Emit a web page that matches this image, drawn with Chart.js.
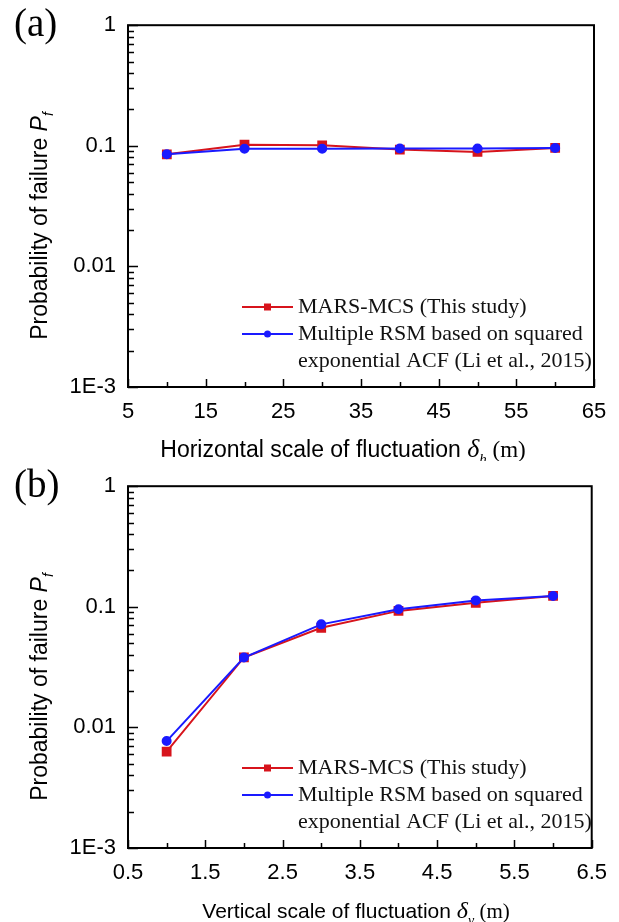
<!DOCTYPE html>
<html>
<head>
<meta charset="utf-8">
<script src="https://cdn.jsdelivr.net/npm/chart.js@4.4.1/dist/chart.umd.min.js"></script>
<style>
  html, body { margin: 0; padding: 0; background: #fff; }
  canvas { display: block; }
</style>
</head>
<body>
<canvas id="chartA" width="619" height="461"></canvas>
<canvas id="chartB" width="619" height="461"></canvas>
<script>
// panel (a): horizontal scale of fluctuation
const xA = [10, 20, 30, 40, 50, 60];
const marsA = [0.085, 0.102, 0.101, 0.093, 0.089, 0.096];
const rsmA = [0.085, 0.0945, 0.0945, 0.095, 0.095, 0.096];

// panel (b): vertical scale of fluctuation
const xB = [1, 2, 3, 4, 5, 6];
const marsB = [0.0063, 0.038, 0.067, 0.0925, 0.108, 0.123];
const rsmB = [0.0077, 0.038, 0.0715, 0.0955, 0.113, 0.123];

const yDecades = [0.001, 0.01, 0.1, 1];
const yDecadeLabels = ['1E-3', '0.01', '0.1', '1'];
const seriesNames = ['MARS-MCS (This study)', ['Multiple RSM based on squared', 'exponential ACF (Li et al., 2015)']];

const RED = '#d7141c';
const BLUE = '#1a1aff';
const SANS = '"Liberation Sans", Arial, sans-serif';
const SERIF = '"Liberation Serif", "Times New Roman", serif';

// draws the box, inward ticks, axis titles, panel letter and legend
const decor = {
  id: 'decor',
  afterDraw(chart, args, o) {
    const { ctx, chartArea: a, scales: { x, y } } = chart;
    ctx.save();
    ctx.strokeStyle = '#000';
    ctx.lineWidth = 2;
    ctx.strokeRect(a.left, a.top, a.right - a.left, a.bottom - a.top);

    // y ticks (log, inward)
    ctx.lineWidth = 1.5;
    ctx.beginPath();
    yDecades.forEach(d => {
      for (let k = 1; k <= 9; k++) {
        const v = d * k;
        if (v > 1.0001) break;
        const py = Math.round(y.getPixelForValue(v)) + 0.5;
        const len = k === 1 ? 10 : 6;
        ctx.moveTo(a.left, py); ctx.lineTo(a.left + len, py);
      }
    });
    // x ticks (inward): major at scale ticks, minor in between
    const tv = x.ticks.map(t => t.value);
    tv.forEach((t, i) => {
      const px = Math.round(x.getPixelForValue(t)) + 0.5;
      ctx.moveTo(px, a.bottom); ctx.lineTo(px, a.bottom - 8);
      if (i < tv.length - 1) {
        const mx = Math.round(x.getPixelForValue((t + tv[i + 1]) / 2)) + 0.5;
        ctx.moveTo(mx, a.bottom); ctx.lineTo(mx, a.bottom - 5);
      }
    });
    ctx.stroke();

    ctx.fillStyle = '#000';
    ctx.textBaseline = 'alphabetic';
    ctx.textAlign = 'left';

    // panel letter
    ctx.font = '39px ' + SERIF;
    ctx.fillText(o.letter, 14, 36);

    // x title
    const fs = o.xTitleSize;
    const parts = [
      { t: o.xTitle, f: fs + 'px ' + SANS, dy: 0 },
      { t: 'δ', f: 'italic ' + (fs + 3) + 'px ' + SERIF, dy: 0 },
      { t: o.xSub, f: 'italic ' + Math.round(fs * 0.65) + 'px ' + SERIF, dy: 7 },
      { t: ' (m)', f: fs + 'px ' + SERIF, dy: 0 }
    ];
    let w = 0;
    parts.forEach(p => { ctx.font = p.f; w += ctx.measureText(p.t).width; });
    let cx = o.xTitleCenter - w / 2;
    parts.forEach(p => {
      ctx.font = p.f;
      ctx.fillText(p.t, cx, 457 + p.dy);
      cx += ctx.measureText(p.t).width;
    });

    // y title (rotated)
    const yparts = [
      { t: 'Probability of failure ', f: '23px ' + SANS, dy: 0 },
      { t: 'P', f: 'italic 23px ' + SANS, dy: 0 },
      { t: 'f', f: 'italic 14px ' + SANS, dy: 6 }
    ];
    w = 0;
    yparts.forEach(p => { ctx.font = p.f; w += ctx.measureText(p.t).width; });
    ctx.save();
    ctx.translate(47, 226);
    ctx.rotate(-Math.PI / 2);
    cx = -w / 2;
    yparts.forEach(p => {
      ctx.font = p.f;
      ctx.fillText(p.t, cx, p.dy);
      cx += ctx.measureText(p.t).width;
    });
    ctx.restore();

    // legend
    const rows = [307, 334, 361];
    const x0 = 242, x1 = 293, tx = 298;
    ctx.font = '22px ' + SERIF;
    ctx.textBaseline = 'middle';
    chart.data.datasets.forEach((ds, i) => {
      const ly = rows[ds.legendRow];
      ctx.strokeStyle = ds.borderColor;
      ctx.lineWidth = 2;
      ctx.beginPath(); ctx.moveTo(x0, ly); ctx.lineTo(x1, ly); ctx.stroke();
      ctx.fillStyle = ds.borderColor;
      const mx = (x0 + x1) / 2;
      if (ds.pointStyle === 'rect') ctx.fillRect(mx - 3.5, ly - 3.5, 7, 7);
      else { ctx.beginPath(); ctx.arc(mx, ly, 3.5, 0, Math.PI * 2); ctx.fill(); }
      ctx.fillStyle = '#111';
      const lbl = [].concat(ds.label);
      lbl.forEach((t, j) => ctx.fillText(t, tx, rows[ds.legendRow + j]));
    });
    ctx.restore();
  }
};

function makeChart(id, xs, mars, rsm, xMin, xMax, step, letter, xTitle, xSub, xTitleCenter, xTitleSize) {
  return new Chart(document.getElementById(id), {
    type: 'line',
    data: {
      datasets: [
        {
          label: seriesNames[0], legendRow: 0,
          data: xs.map((v, i) => ({ x: v, y: mars[i] })),
          borderColor: RED, backgroundColor: RED, borderWidth: 2,
          pointStyle: 'rect', pointRadius: 5.5, pointHoverRadius: 5.5,
          order: 1
        },
        {
          label: seriesNames[1], legendRow: 1,
          data: xs.map((v, i) => ({ x: v, y: rsm[i] })),
          borderColor: BLUE, backgroundColor: BLUE, borderWidth: 2,
          pointStyle: 'circle', pointRadius: 4, pointHoverRadius: 4,
          order: 0
        }
      ]
    },
    options: {
      responsive: false,
      animation: false,
      devicePixelRatio: 1,
      layout: { padding: { left: 0, top: 21, right: 25, bottom: 0 } },
      plugins: {
        legend: { display: false },
        tooltip: { enabled: false },
        decor: { letter, xTitle, xSub, xTitleCenter, xTitleSize }
      },
      scales: {
        x: {
          type: 'linear', min: xMin, max: xMax,
          ticks: { stepSize: step, color: '#000', padding: 12, maxRotation: 0,
                   font: { family: SANS, size: 22 } },
          grid: { display: false, drawTicks: false },
          border: { display: false },
          afterFit: s => { s.height = 74; }
        },
        y: {
          type: 'logarithmic', min: 0.001, max: 1,
          afterBuildTicks: s => { s.ticks = yDecades.map(v => ({ value: v })); },
          ticks: {
            color: '#000', padding: 12, font: { family: SANS, size: 22 },
            callback: v => {
              const i = yDecades.findIndex(d => Math.abs(d - v) < d * 1e-6);
              return i >= 0 ? yDecadeLabels[i] : '';
            }
          },
          grid: { display: false, drawTicks: false },
          border: { display: false },
          afterFit: s => { s.width = 128; }
        }
      }
    },
    plugins: [decor]
  });
}

makeChart('chartA', xA, marsA, rsmA, 5, 65, 10, '(a)', 'Horizontal scale of fluctuation ', 'h', 343, 23);
makeChart('chartB', xB, marsB, rsmB, 0.5, 6.5, 1, '(b)', 'Vertical scale of fluctuation ', 'v', 356, 21);
</script>
</body>
</html>
